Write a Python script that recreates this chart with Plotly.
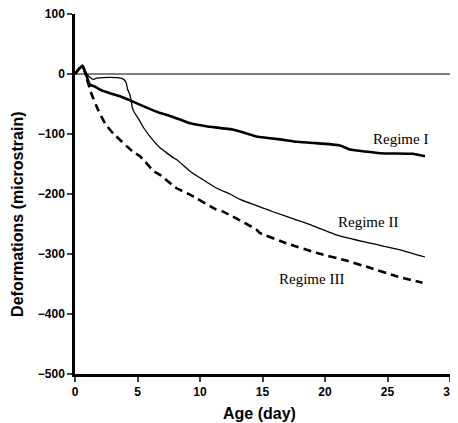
import plotly.graph_objects as go

# Regime I (thick solid)
age_1 = [0, 0.3, 0.6, 0.9, 1.2, 1.6, 2.0, 2.8, 3.6, 4.4, 5.5, 6.8, 7.3, 8.4, 9.2, 10.5, 12.7, 14.5, 14.8, 16.4, 17.7, 19.1, 21.2, 22.0, 24.4, 27.0, 28.0]
def_1 = [0, 8, 14, -2, -18, -21, -26, -32, -37, -44, -54, -65, -68, -76, -82, -87, -93, -104, -105, -109, -113, -115, -119, -126, -132, -133, -137]

# Regime II (thin solid)
age_2 = [0, 0.3, 0.6, 0.9, 1.2, 1.5, 1.7, 2.2, 2.8, 3.4, 3.9, 4.1, 4.2, 4.4, 4.6, 4.7, 5.2, 5.5, 6.3, 6.8, 7.9, 8.1, 9.2, 11.3, 12.4, 13.2, 15.0, 15.9, 17.7, 18.8, 20.9, 23.6, 26.0, 28.0]
def_2 = [0, 8, 14, 2, -6, -9, -7, -6, -5.5, -6, -9, -15, -25, -35, -57, -62, -79, -90, -112, -123, -140, -142, -162, -190, -200, -209, -223, -230, -243, -251, -268, -282, -293, -305]

# Regime III (thick dashed)
age_3 = [0, 0.3, 0.6, 0.9, 1.3, 1.9, 2.4, 2.8, 3.1, 4.6, 5.2, 6.3, 6.8, 8.1, 9.2, 11.3, 11.8, 14.5, 14.8, 16.9, 17.2, 19.3, 21.7, 23.6, 25.7, 27.8]
def_3 = [0, 8, 14, -5, -32, -62, -82, -93, -100, -129, -137, -162, -168, -190, -201, -226, -229, -259, -265, -282, -284, -298, -311, -323, -337, -348]

labels = ["Regime I", "Regime II", "Regime III"]
label_x = [26.0, 23.4, 18.9]
label_y = [-109, -246, -341]

x_ticks = [0, 5, 10, 15, 20, 25, 30]
y_ticks = [-500, -400, -300, -200, -100, 0, 100]

x_title = "Age (day)"
y_title = "Deformations (microstrain)"

fig = go.Figure()
fig.add_trace(go.Scatter(x=[0, 30], y=[0, 0], mode="lines",
                         line=dict(color="black", width=1), hoverinfo="skip"))
fig.add_trace(go.Scatter(x=age_1, y=def_1, mode="lines", name=labels[0],
                         line=dict(color="black", width=2.6, shape="spline", smoothing=0.4)))
fig.add_trace(go.Scatter(x=age_2, y=def_2, mode="lines", name=labels[1],
                         line=dict(color="black", width=1.3, shape="spline", smoothing=0.4)))
fig.add_trace(go.Scatter(x=age_3, y=def_3, mode="lines", name=labels[2],
                         line=dict(color="black", width=2.6, dash="8px,5px", shape="spline", smoothing=0.4)))

for t, x, y in zip(labels, label_x, label_y):
    fig.add_annotation(x=x, y=y, text=t, showarrow=False,
                       font=dict(family="Liberation Serif", size=15, color="black"))

# axis titles placed as annotations for exact placement
fig.add_annotation(xref="paper", yref="paper", x=0.493, y=-0.11, text="<b>" + x_title + "</b>",
                   xanchor="center", yanchor="middle",
                   showarrow=False, font=dict(family="Liberation Sans", size=16, color="black"))
fig.add_annotation(xref="paper", yref="paper", x=-0.152, y=0.442, text="<b>" + y_title + "</b>",
                   xanchor="center", yanchor="middle", textangle=-90, showarrow=False,
                   font=dict(family="Liberation Sans", size=16, color="black"))

# the page body adds an 8px offset, so the figure is drawn 8px smaller on each side
fig.update_layout(
    width=450, height=415,
    margin=dict(l=67, r=8, t=6, b=49),
    paper_bgcolor="white", plot_bgcolor="white",
    showlegend=False,
    font=dict(family="Liberation Sans", color="black"),
)
fig.update_xaxes(
    range=[0, 30], tickvals=x_ticks, ticks="outside", ticklen=5, tickwidth=2,
    showline=True, linecolor="black", linewidth=2.5, showgrid=False, zeroline=False,
    automargin=False, ticklabeloverflow="allow",
    tickfont=dict(family="Liberation Sans", size=12, color="black", weight="bold"),
)
fig.update_yaxes(
    range=[-500, 100], tickvals=y_ticks, ticks="outside", ticklen=5, tickwidth=2,
    showline=True, linecolor="black", linewidth=2.5, mirror=True, showgrid=False, zeroline=False,
    automargin=False, ticklabeloverflow="allow",
    tickfont=dict(family="Liberation Sans", size=12, color="black", weight="bold"),
)

fig.write_html("out.html")
